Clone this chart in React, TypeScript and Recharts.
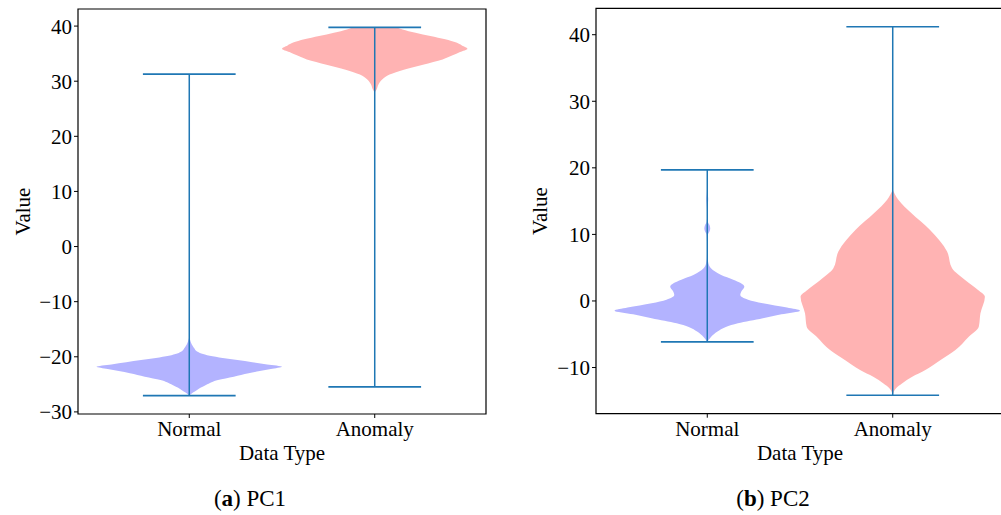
import React from "react";
import {
  ComposedChart,
  Area,
  XAxis,
  YAxis,
  ReferenceLine,
  ReferenceArea,
} from "recharts";

const categories = ["Normal", "Anomaly"];
const positions = [1, 2];

// PC1 violin outlines: sample values and half widths (in x units)
const pc1NormalValues = [-27.04, -26.5, -26.05, -25.6, -25.1, -24.6, -24.2, -23.6, -23.0, -22.6, -22.2, -21.8, -21.4, -21.0, -20.6, -20.2, -19.8, -19.4, -19.0, -18.5, -18.0, -17.5, -17.0, -16.4];
const pc1NormalWidths = [0, 0.02, 0.04, 0.06, 0.09, 0.12, 0.155, 0.24, 0.32, 0.38, 0.44, 0.5, 0.42, 0.34, 0.26, 0.18, 0.11, 0.065, 0.04, 0.028, 0.018, 0.01, 0.005, 0];
const pc1AnomalyValues = [28.0, 28.5, 29.4, 30.3, 31.2, 32.1, 33.0, 33.95, 34.7, 35.3, 35.9, 36.5, 37.0, 37.6, 38.2, 38.8, 39.4, 39.76];
const pc1AnomalyWidths = [0, 0.01, 0.02, 0.04, 0.08, 0.157, 0.26, 0.366, 0.42, 0.46, 0.5, 0.47, 0.44, 0.38, 0.3, 0.22, 0.15, 0.12];
const pc1Min = [-27.04, -25.46];
const pc1Max = [31.28, 39.76];
const pc1Ticks = [-30, -20, -10, 0, 10, 20, 30, 40];

// PC2 violin outlines
const pc2NormalValues = [-6.15, -5.4, -4.6, -3.9, -3.36, -2.6, -2.0, -1.46, -1.0, -0.35, 0.2, 0.9, 1.5, 2.15, 2.7, 3.2, 3.9, 4.9, 5.67, 6.5, 8.0, 9.9, 10.5, 10.9, 11.4, 11.9, 13.0, 14.5, 15.3, 16.0, 17.0, 19.69];
const pc2NormalWidths = [0, 0.02, 0.055, 0.1, 0.165, 0.3, 0.4, 0.5, 0.43, 0.3, 0.22, 0.178, 0.185, 0.2, 0.18, 0.14, 0.075, 0.02, 0.006, 0.002, 0.001, 0.003, 0.013, 0.016, 0.012, 0.003, 0.001, 0.003, 0.005, 0.003, 0.001, 0];
const pc2AnomalyValues = [-14.17, -13.1, -12.4, -11.4, -10.38, -8.88, -7.37, -5.37, -3.86, -1.86, 0.65, 1.66, 3.16, 4.91, 7.42, 10.7, 13.2, 15.2, 16.7];
const pc2AnomalyWidths = [0, 0.018, 0.05, 0.105, 0.176, 0.258, 0.338, 0.41, 0.464, 0.473, 0.497, 0.46, 0.39, 0.32, 0.293, 0.2, 0.1, 0.03, 0];
const pc2Min = [-6.15, -14.17];
const pc2Max = [19.69, 41.2];
const pc2Ticks = [-10, 0, 10, 20, 30, 40];

const FONT = "'Liberation Serif', 'Times New Roman', serif";
const LINE = "#1f77b4";
const FILLS = ["#b3b3ff", "#ffb3b3"];
const X_DOMAIN = [0.4, 2.6];

function buildRows(violins: { values: number[]; widths: number[] }[]) {
  const rows: any[] = [];
  violins.forEach((vi, k) => {
    vi.values.forEach((v, i) => {
      rows.push({ v, ["s" + k]: [positions[k] - vi.widths[i], positions[k] + vi.widths[i]] });
    });
  });
  return rows.sort((a, b) => a.v - b.v);
}

const violinKeys = [
  (d: any) => d.s0 ?? [null, null],
  (d: any) => d.s1 ?? [null, null],
];

const fmtY = (v: number) => (v < 0 ? "\u2212" + Math.abs(v) : String(v));
const fmtX = (v: number) => categories[positions.indexOf(v)] ?? "";

const tickStyle = { fill: "#000", fontSize: 21, fontFamily: FONT };

function ViolinPanel({
  rows,
  mins,
  maxs,
  ticks,
  width,
  margin,
  yAxisWidth,
  valueOffset,
}: {
  rows: any[];
  mins: number[];
  maxs: number[];
  ticks: number[];
  width: number;
  margin: { top: number; right: number; bottom: number; left: number };
  yAxisWidth: number;
  valueOffset: number;
}) {
  const lo = Math.min(...mins);
  const hi = Math.max(...maxs);
  const pad = (hi - lo) * 0.05;
  const yDomain = [lo - pad, hi + pad];

  return (
    <ComposedChart layout="vertical" width={width} height={515} data={rows} margin={margin}>
      <XAxis
        type="number"
        domain={X_DOMAIN}
        ticks={positions}
        tickFormatter={fmtX}
        interval={0}
        axisLine={false}
        tickLine={{ stroke: "#000" }}
        tickSize={4}
        tickMargin={3}
        height={50}
        tick={tickStyle}
        label={{ value: "Data Type", position: "insideBottom", offset: 4, fill: "#000", fontSize: 21, fontFamily: FONT }}
      />
      <YAxis
        type="number"
        dataKey="v"
        domain={yDomain}
        reversed
        ticks={ticks}
        tickFormatter={fmtY}
        interval={0}
        axisLine={false}
        tickLine={{ stroke: "#000" }}
        tickSize={4}
        tickMargin={2}
        width={yAxisWidth}
        tick={tickStyle}
        label={{
          value: "Value",
          angle: -90,
          position: "insideLeft",
          offset: valueOffset,
          style: { textAnchor: "middle" },
          fill: "#000",
          fontSize: 21,
          fontFamily: FONT,
        }}
      />
      {positions.map((p, k) => (
        <Area
          key={"violin" + k}
          dataKey={violinKeys[k]}
          type="monotone"
          stroke="none"
          fill={FILLS[k]}
          fillOpacity={1}
          connectNulls
          dot={false}
          activeDot={false}
          isAnimationActive={false}
        />
      ))}
      {positions.map((p, k) => (
        <ReferenceLine
          key={"stem" + k}
          segment={[{ x: p, y: mins[k] }, { x: p, y: maxs[k] }]}
          stroke={LINE}
          strokeWidth={1.5}
        />
      ))}
      {positions.map((p, k) => (
        <ReferenceLine
          key={"capmin" + k}
          segment={[{ x: p - 0.25, y: mins[k] }, { x: p + 0.25, y: mins[k] }]}
          stroke={LINE}
          strokeWidth={1.6}
        />
      ))}
      {positions.map((p, k) => (
        <ReferenceLine
          key={"capmax" + k}
          segment={[{ x: p - 0.25, y: maxs[k] }, { x: p + 0.25, y: maxs[k] }]}
          stroke={LINE}
          strokeWidth={1.6}
        />
      ))}
      <ReferenceArea
        x1={X_DOMAIN[0]}
        x2={X_DOMAIN[1]}
        y1={yDomain[0]}
        y2={yDomain[1]}
        fill="none"
        fillOpacity={0}
        stroke="#000"
        strokeWidth={1.2}
      />
    </ComposedChart>
  );
}

const pc1Rows = buildRows([
  { values: pc1NormalValues, widths: pc1NormalWidths },
  { values: pc1AnomalyValues, widths: pc1AnomalyWidths },
]);
const pc2Rows = buildRows([
  { values: pc2NormalValues, widths: pc2NormalWidths },
  { values: pc2AnomalyValues, widths: pc2AnomalyWidths },
]);

const captionStyle: React.CSSProperties = {
  position: "absolute",
  top: 487,
  width: 500,
  textAlign: "center",
  fontFamily: FONT,
  fontSize: 23,
  lineHeight: "23px",
  color: "#000",
};

export default function App() {
  return (
    <div
      style={{
        position: "absolute",
        left: 0,
        top: 0,
        width: 1001,
        height: 515,
        overflow: "hidden",
        background: "#fff",
      }}
    >
      <div style={{ position: "absolute", left: 0, top: 0 }}>
        <ViolinPanel
          rows={pc1Rows}
          mins={pc1Min}
          maxs={pc1Max}
          ticks={pc1Ticks}
          width={500}
          margin={{ top: 9, right: 14, bottom: 51, left: 0 }}
          yAxisWidth={78}
          valueOffset={23}
        />
      </div>
      <div style={{ position: "absolute", left: 500, top: 0 }}>
        <ViolinPanel
          rows={pc2Rows}
          mins={pc2Min}
          maxs={pc2Max}
          ticks={pc2Ticks}
          width={520}
          margin={{ top: 8.3, right: 16, bottom: 51.3, left: 0 }}
          yAxisWidth={96}
          valueOffset={40}
        />
      </div>
      <div style={{ ...captionStyle, left: 0 }}>
        (<b>a</b>) PC1
      </div>
      <div style={{ ...captionStyle, left: 523 }}>
        (<b>b</b>) PC2
      </div>
    </div>
  );
}
